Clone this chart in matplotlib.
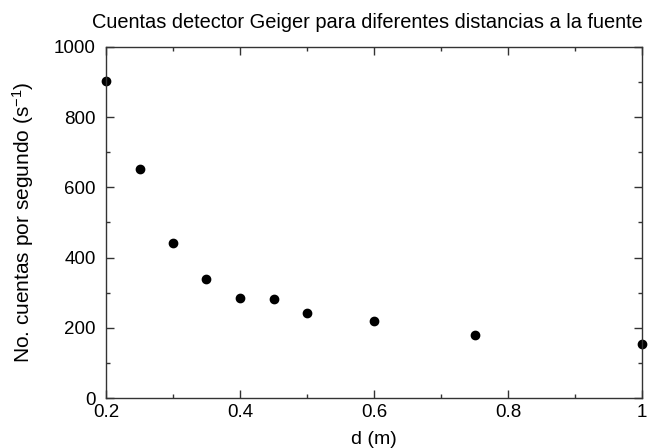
import matplotlib
matplotlib.use("Agg")
import matplotlib.pyplot as plt
from matplotlib.ticker import MultipleLocator, FuncFormatter

# Datos: distancia a la fuente (m) y cuentas por segundo
distancias = [0.2, 0.25, 0.3, 0.35, 0.4, 0.45, 0.5, 0.6, 0.75, 1.0]
cuentas = [903, 652, 443, 340, 284, 281, 241, 219, 180, 154]

plt.rcParams["font.family"] = ["Liberation Sans", "DejaVu Sans"]
plt.rcParams["mathtext.fontset"] = "custom"
plt.rcParams["mathtext.rm"] = "Liberation Sans"
plt.rcParams["mathtext.it"] = "Liberation Sans:italic"

fig = plt.figure(figsize=(6.53, 4.48), dpi=100)
ax = fig.add_axes([106 / 653, 50 / 448, 536 / 653, 351 / 448])

ax.plot(distancias, cuentas, "o", color="black", markersize=6, clip_on=False)

ax.set_xlim(0.2, 1.0)
ax.set_ylim(0, 1000)
ax.xaxis.set_major_locator(MultipleLocator(0.2))
ax.xaxis.set_minor_locator(MultipleLocator(0.1))
ax.yaxis.set_major_locator(MultipleLocator(200))
ax.yaxis.set_minor_locator(MultipleLocator(100))
ax.xaxis.set_major_formatter(FuncFormatter(lambda v, _: f"{v:g}"))

ax.tick_params(which="both", direction="in", top=True, right=True,
               labelsize=13.5, color="#333333")
ax.tick_params(axis="x", pad=4.5)
ax.tick_params(axis="y", pad=7.5)
ax.tick_params(which="major", length=6, width=1)
ax.tick_params(which="minor", length=3, width=1)
for s in ax.spines.values():
    s.set_color("#333333")
    s.set_linewidth(1)

ax.set_title("Cuentas detector Geiger para diferentes distancias a la fuente",
             fontsize=14.4, x=0.488, pad=13.5)
ax.set_xlabel("d (m)", fontsize=14)
ax.xaxis.set_label_coords(0.5, -0.093)
ax.set_ylabel(r"No. cuentas por segundo (s$^{\mathregular{-1}}$)", fontsize=15)
ax.yaxis.set_label_coords(-0.13, 0.5)

fig.savefig("out.png", dpi=100)
